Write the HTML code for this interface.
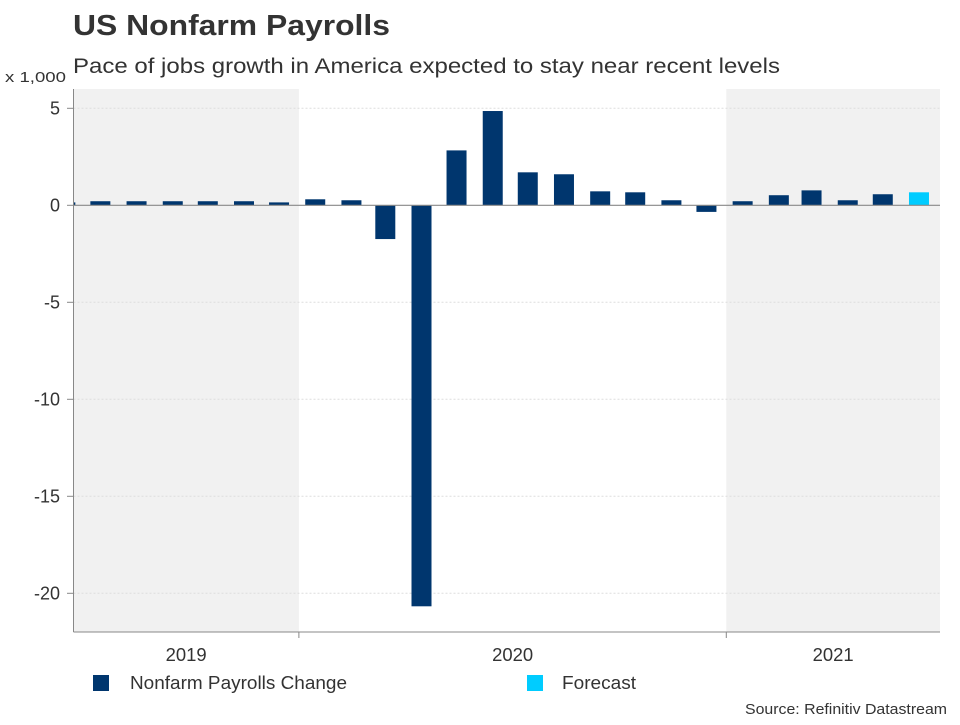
<!DOCTYPE html>
<html><head><meta charset="utf-8">
<style>
html,body{margin:0;padding:0;background:#fff;}
body{width:960px;height:720px;overflow:hidden;font-family:"Liberation Sans",Arial,sans-serif;}
text{font-family:"Liberation Sans",Arial,sans-serif;}
</style></head>
<body>
<svg id="chart" width="960" height="720" viewBox="0 0 960 720" xmlns="http://www.w3.org/2000/svg">
<text x="73" y="35" font-size="29" font-weight="bold" fill="#333" textLength="317" lengthAdjust="spacingAndGlyphs">US Nonfarm Payrolls</text>
<text x="73" y="73" font-size="21" fill="#333" textLength="707" lengthAdjust="spacingAndGlyphs">Pace of jobs growth in America expected to stay near recent levels</text>
<text x="5" y="82" font-size="15" fill="#333" textLength="61" lengthAdjust="spacingAndGlyphs">x 1,000</text>
<g id="bands"></g>
<g id="grid"></g>
<g id="bars"></g>
<g id="axes"></g>
<g>
  <rect x="93" y="675" width="16" height="16" fill="#00366e"/>
  <text x="130" y="689" font-size="18" fill="#333" textLength="217" lengthAdjust="spacingAndGlyphs">Nonfarm Payrolls Change</text>
  <rect x="527" y="675" width="16" height="16" fill="#00ccff"/>
  <text x="562" y="689" font-size="18" fill="#333" textLength="74" lengthAdjust="spacingAndGlyphs">Forecast</text>
</g>
<text x="947" y="714" font-size="15" fill="#333" text-anchor="end" textLength="202" lengthAdjust="spacingAndGlyphs">Source: Refinitiv Datastream</text>
</svg>
<script>
const months = ["2019-06","2019-07","2019-08","2019-09","2019-10","2019-11","2019-12",
"2020-01","2020-02","2020-03","2020-04","2020-05","2020-06","2020-07","2020-08","2020-09","2020-10","2020-11","2020-12",
"2021-01","2021-02","2021-03","2021-04","2021-05","2021-06"];
const payrolls = [0.15,0.21,0.21,0.21,0.21,0.21,0.15,0.31,0.26,-1.74,-20.67,2.83,4.86,1.70,1.60,0.72,0.67,0.26,-0.34,0.21,0.52,0.77,0.26,0.57,null];
const forecast = [null,null,null,null,null,null,null,null,null,null,null,null,null,null,null,null,null,null,null,null,null,null,null,null,0.67];
const yTicks = [5,0,-5,-10,-15,-20];
const yearLabels = ["2019","2020","2021"];

const NS="http://www.w3.org/2000/svg";
const L=73.5,R=940,T=89,B=632;
const dMin=Date.UTC(2019,5,22), dMax=Date.UTC(2021,6,3);
function x(t){return L+(t-dMin)/(dMax-dMin)*(R-L);}
function y(v){return 205.3-v*19.4;}
function mk(tag,attrs,parent){const e=document.createElementNS(NS,tag);for(const k in attrs)e.setAttribute(k,attrs[k]);parent.appendChild(e);return e;}
const bands=document.getElementById('bands'),grid=document.getElementById('grid'),bars=document.getElementById('bars'),axes=document.getElementById('axes');

const yb=[[dMin,Date.UTC(2020,0,1)],[Date.UTC(2021,0,1),dMax]];
yb.forEach((b,i)=>{
  const r=mk('rect',{x:x(b[0]),y:T,width:x(b[1])-x(b[0]),height:B-T,fill:'#f1f1f1'},bands);
  
  
});
yTicks.forEach(v=>{
  if(v!==0){const g=mk('line',{x1:L,x2:R,y1:y(v),y2:y(v),stroke:'#ddd','stroke-dasharray':'2,2'},grid);
  
  }
  const tk=mk('line',{x1:67,x2:L,y1:y(v),y2:y(v),stroke:'#888'},axes);
  
  
  const t=mk('text',{x:60,y:y(v)+6,'font-size':18,fill:'#333','text-anchor':'end'},axes);
  t.textContent=v;
  
  
});
function mid(m){const [yy,mm]=m.split('-').map(Number);return Date.UTC(yy,mm-1,15);}
function drawSeries(vals,color,name){
  vals.forEach((v,i)=>{
    if(v===null)return;
    const cx=x(mid(months[i]));
    let x0=Math.max(cx-10,L+0.5), x1=cx+10;
    if(x1<=x0)return;
    const r=mk('rect',{x:x0,y:Math.min(y(0),y(v)),width:x1-x0,height:Math.abs(y(v)-y(0)),fill:color},bars);
    
    
  });
}
drawSeries(payrolls,'#00366e','bar');
drawSeries(forecast,'#00ccff','forecast-bar');
const z=mk('line',{x1:L,x2:R,y1:y(0),y2:y(0),stroke:'#888','stroke-width':1.2},axes);


const ya=mk('line',{x1:L,x2:L,y1:T,y2:B,stroke:'#888'},axes);


const xa=mk('line',{x1:L,x2:R,y1:B,y2:B,stroke:'#888'},axes);


[Date.UTC(2020,0,1),Date.UTC(2021,0,1)].forEach(t=>{
  const tk=mk('line',{x1:x(t),x2:x(t),y1:B,y2:B+6,stroke:'#888'},axes);
  
  
});
const yStarts=[dMin,Date.UTC(2020,0,1),Date.UTC(2021,0,1)], yEnds=[Date.UTC(2020,0,1),Date.UTC(2021,0,1),dMax];
yearLabels.forEach((lab,i)=>{
  const t=mk('text',{x:(x(yStarts[i])+x(yEnds[i]))/2,y:661,'font-size':18,fill:'#333','text-anchor':'middle',textLength:41,lengthAdjust:'spacingAndGlyphs'},axes);
  t.textContent=lab;
  
  
});
</script>
</body></html>
